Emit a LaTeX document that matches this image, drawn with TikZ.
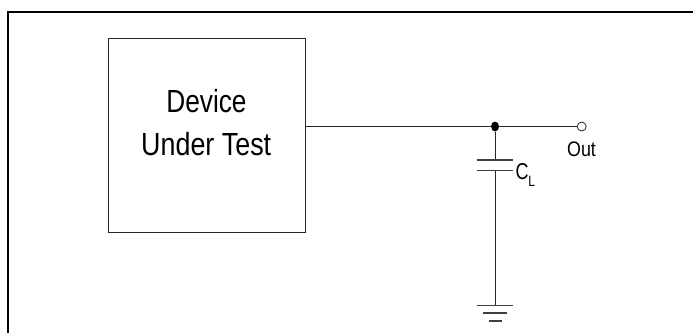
\documentclass[tikz,border=0pt]{standalone}
\usepackage{fontspec}
\setmainfont{Liberation Sans}
\newcommand{\stretched}[3]{\scalebox{#1}[1]{\fontsize{#2}{#2}\selectfont #3}}
\tikzset{
  frameline/.style={line width=2pt,black},
  wire/.style={line width=1pt,black!85},
  plate/.style={line width=1.2pt,black!75},
  dutbox/.style={draw=black!85,line width=1pt,minimum width=197.5pt,minimum height=193.5pt,inner sep=0pt},
  textnode/.style={inner sep=0pt,outer sep=0pt,anchor=base},
  junction/.style={ellipse,fill=black,draw=none,minimum width=8pt,minimum height=10pt,inner sep=0pt},
  terminal/.style={circle,draw=black!85,fill=white,line width=0.8pt,minimum size=9pt,inner sep=0pt}
}
\usetikzlibrary{shapes.geometric}
\begin{document}
\begin{tikzpicture}[x=1pt,y=-1pt]
\useasboundingbox (0,0) rectangle (693,333);
\coordinate (ftop) at (693,12);
\coordinate (fcorner) at (8,12);
\coordinate (fbot) at (8,333);
\draw[frameline,line cap=butt,line join=miter] (ftop) -- (fcorner) -- (fbot);

\node[dutbox] (dut) at (206.75,135.25) {};
\node[textnode] (dev) at (206.5,112.7) {\stretched{0.82}{32pt}{Device}};
\node[textnode] (undertest) at (206.2,155) {\stretched{0.84}{32pt}{Under Test}};

\node[junction] (junc) at (495,126.5) {};
\node[terminal] (out) at (581.7,126.5) {};
\node[textnode] (outlabel) at (581.5,156.7) {\stretched{0.85}{21pt}{Out}};

\draw[wire] (dut.east |- junc) -- (junc);
\draw[wire] (junc) -- (out);

\coordinate (c1) at (495,160);
\coordinate (c1l) at (476.7,160);
\coordinate (c1r) at (512.7,160);
\coordinate (c2) at (495,170.7);
\coordinate (c2l) at (476.7,170.7);
\coordinate (c2r) at (512.7,170.7);
\draw[wire] (junc) -- (c1);
\draw[plate] (c1l) -- (c1r);
\draw[plate] (c2l) -- (c2r);

\coordinate (g1) at (495,305.7);
\coordinate (g1l) at (477,305.7);
\coordinate (g1r) at (512.7,305.7);
\coordinate (g2l) at (483,313);
\coordinate (g2r) at (507,313);
\coordinate (g3l) at (489.3,321);
\coordinate (g3r) at (501.7,321);
\draw[wire] (c2) -- (g1);
\draw[plate] (g1l) -- (g1r);
\draw[plate] (g2l) -- (g2r);
\draw[plate] (g3l) -- (g3r);

\node[textnode,anchor=base west] (cl) at (515.5,179) {\stretched{0.78}{23pt}{C}\raisebox{-7pt}{\stretched{0.8}{15pt}{L}}};
\end{tikzpicture}
\end{document}
